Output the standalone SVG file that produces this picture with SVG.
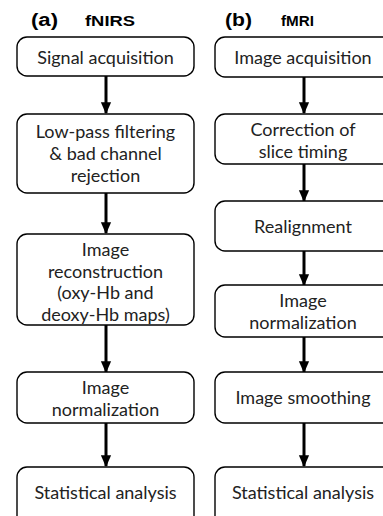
<svg xmlns="http://www.w3.org/2000/svg" width="383" height="516" viewBox="0 0 383 516">
<defs>
<style>
.box{fill:#fff;stroke:#000;stroke-width:1.4}
.t{font-family:Lato,"Liberation Sans",sans-serif;font-size:18px;fill:#222;text-anchor:middle}
.h{font-family:"Liberation Sans",Arial,sans-serif;font-weight:bold;fill:#000}
.c{stroke:#000;stroke-width:3;fill:none}
</style>
<marker id="ah" markerWidth="4" markerHeight="4" refX="3.6" refY="2" orient="auto" markerUnits="strokeWidth">
<path d="M0,0.3 L4,2 L0,3.7 Z" fill="#000"/>
</marker>
</defs>
<rect width="383" height="516" fill="#fff"/>
<g id="titles">
<text class="h" x="31" y="26" font-size="18" textLength="27" lengthAdjust="spacingAndGlyphs">(a)</text>
<text class="h" x="85" y="26" font-size="15.5" textLength="50" lengthAdjust="spacingAndGlyphs">fNIRS</text>
<text class="h" x="225" y="26" font-size="18" textLength="27" lengthAdjust="spacingAndGlyphs">(b)</text>
<text class="h" x="281" y="26" font-size="15.5" textLength="33" lengthAdjust="spacingAndGlyphs">fMRI</text>
</g>
<g id="connectors">
<line class="c" x1="106" y1="76" x2="106" y2="113" marker-end="url(#ah)"/>
<line class="c" x1="106" y1="193" x2="106" y2="233" marker-end="url(#ah)"/>
<line class="c" x1="106" y1="325" x2="106" y2="372" marker-end="url(#ah)"/>
<line class="c" x1="106" y1="423" x2="106" y2="466" marker-end="url(#ah)"/>
<line class="c" x1="304" y1="77" x2="304" y2="113" marker-end="url(#ah)"/>
<line class="c" x1="304" y1="164" x2="304" y2="201" marker-end="url(#ah)"/>
<line class="c" x1="304" y1="251" x2="304" y2="285" marker-end="url(#ah)"/>
<line class="c" x1="304" y1="337" x2="304" y2="372" marker-end="url(#ah)"/>
<line class="c" x1="304" y1="423" x2="304" y2="466" marker-end="url(#ah)"/>
</g>
<g id="a1"><rect class="box" x="17" y="37" width="177" height="39" rx="10"/><text class="t" x="105.5" y="64">Signal acquisition</text></g>
<g id="a2"><rect class="box" x="17" y="114" width="177" height="79" rx="10"/><text class="t" x="105.5" y="138">Low-pass filtering</text><text class="t" x="105.5" y="160">&amp; bad channel</text><text class="t" x="105.5" y="182">rejection</text></g>
<g id="a3"><rect class="box" x="17" y="234" width="177" height="91" rx="10"/><text class="t" x="105.5" y="256">Image</text><text class="t" x="105.5" y="278">reconstruction</text><text class="t" x="105.5" y="299">(oxy-Hb and</text><text class="t" x="105.5" y="321">deoxy-Hb maps)</text></g>
<g id="a4"><rect class="box" x="17" y="372" width="177" height="51" rx="10"/><text class="t" x="105.5" y="394">Image</text><text class="t" x="105.5" y="416">normalization</text></g>
<g id="a5"><rect class="box" x="17" y="467" width="177" height="60" rx="10"/><text class="t" x="105.5" y="499">Statistical analysis</text></g>
<g id="b1"><rect class="box" x="215" y="37" width="177" height="40" rx="10"/><text class="t" x="303" y="64">Image acquisition</text></g>
<g id="b2"><rect class="box" x="215" y="114" width="177" height="50" rx="10"/><text class="t" x="303" y="136">Correction of</text><text class="t" x="303" y="158">slice timing</text></g>
<g id="b3"><rect class="box" x="215" y="201" width="177" height="50" rx="10"/><text class="t" x="303" y="233">Realignment</text></g>
<g id="b4"><rect class="box" x="215" y="285" width="177" height="52" rx="10"/><text class="t" x="303" y="307">Image</text><text class="t" x="303" y="329">normalization</text></g>
<g id="b5"><rect class="box" x="215" y="372" width="177" height="51" rx="10"/><text class="t" x="303" y="404">Image smoothing</text></g>
<g id="b6"><rect class="box" x="215" y="467" width="177" height="60" rx="10"/><text class="t" x="303" y="499">Statistical analysis</text></g>
</svg>
